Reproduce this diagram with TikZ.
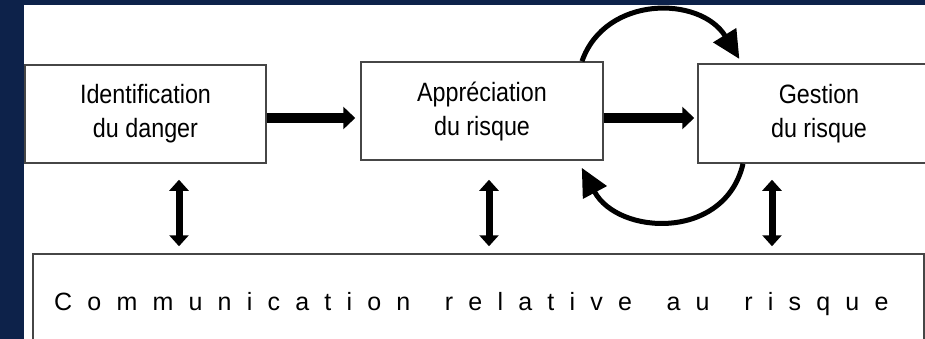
\documentclass[tikz,border=0pt]{standalone}
\usepackage{fontspec}
\usetikzlibrary{arrows.meta}
\newfontfamily\boxfont[FakeStretch=0.88]{Liberation Sans}
\newfontfamily\commfont{Liberation Sans}
\definecolor{navybg}{RGB}{13,34,74}
\definecolor{boxgray}{RGB}{70,70,70}
\newcommand\lspaced[1]{\lsloop#1\relax}
\def\lsloop#1{\ifx\relax#1\else#1\kern15.2pt\expandafter\lsloop\fi}
\tikzset{
  stagebox/.style={draw=boxgray, line width=1.5pt, fill=white, align=center,
    inner sep=0pt, font=\boxfont\fontsize{26.5pt}{34pt}\selectfont},
  fatarrow/.style={line width=10pt, -{Triangle[length=12pt,width=22pt]}},
  dblarrow/.style={line width=7pt, {Triangle[length=11pt,width=19pt]}-{Triangle[length=11pt,width=19pt]}},
  looparrow/.style={line width=5pt, -{Triangle[length=28pt,width=26pt]}}
}
\begin{document}
\begin{tikzpicture}[x=1pt,y=-1pt]
\useasboundingbox (0,0) rectangle (925,339);
\clip (0,0) rectangle (925,339);
\fill[navybg] (0,0) rectangle (925,339);
\fill[white] (24,5) rectangle (925,339);

\node[stagebox, minimum width=241pt, minimum height=98pt] (ident) at (145.5,114) {Identification\\du danger};
\node[stagebox, minimum width=242pt, minimum height=98pt] (apprec) at (482,111) {Appréciation\\du risque};
\node[stagebox, minimum width=242pt, minimum height=99pt] (gest) at (819,113.5) {Gestion\\du risque};
\node[stagebox, minimum width=891pt, minimum height=99pt] (comm) at (478.5,303.5) {};
\node[anchor=base west, inner sep=0pt, font=\commfont\fontsize{25pt}{30pt}\selectfont] (commtext) at (54,310)
  {\lspaced{Communication}\kern19.5pt\lspaced{relative}\kern19.5pt\lspaced{au}\kern19.5pt\lspaced{risque}};

% horizontal arrows
\coordinate (hy) at (0,118);
\draw[fatarrow, shorten >=5pt] (ident.east |- hy) -- (apprec.west |- hy);
\draw[fatarrow, shorten >=3pt] (apprec.east |- hy) -- (gest.west |- hy);

% vertical double arrows
\coordinate (v1) at (179,0);
\coordinate (v2) at (489,0);
\coordinate (v3) at (772,0);
\draw[dblarrow, shorten <=16pt, shorten >=7pt] (ident.south -| v1) -- (comm.north -| v1);
\draw[dblarrow, shorten <=19pt, shorten >=7pt] (apprec.south -| v2) -- (comm.north -| v2);
\draw[dblarrow, shorten <=16pt, shorten >=7pt] (gest.south -| v3) -- (comm.north -| v3);

% loop arrows
\coordinate (ta) at (582,0);
\coordinate (tb) at (742,0);
\coordinate (ba) at (743,0);
\coordinate (bb) at (578,0);
\draw[looparrow, shorten >=5pt] (apprec.north -| ta) .. controls +(23,-66) and +(-42,-68) .. (gest.north -| tb);
\draw[looparrow, shorten >=8pt] (gest.south -| ba) .. controls +(-18,77) and +(40,75) .. (apprec.south -| bb);
\end{tikzpicture}
\end{document}
